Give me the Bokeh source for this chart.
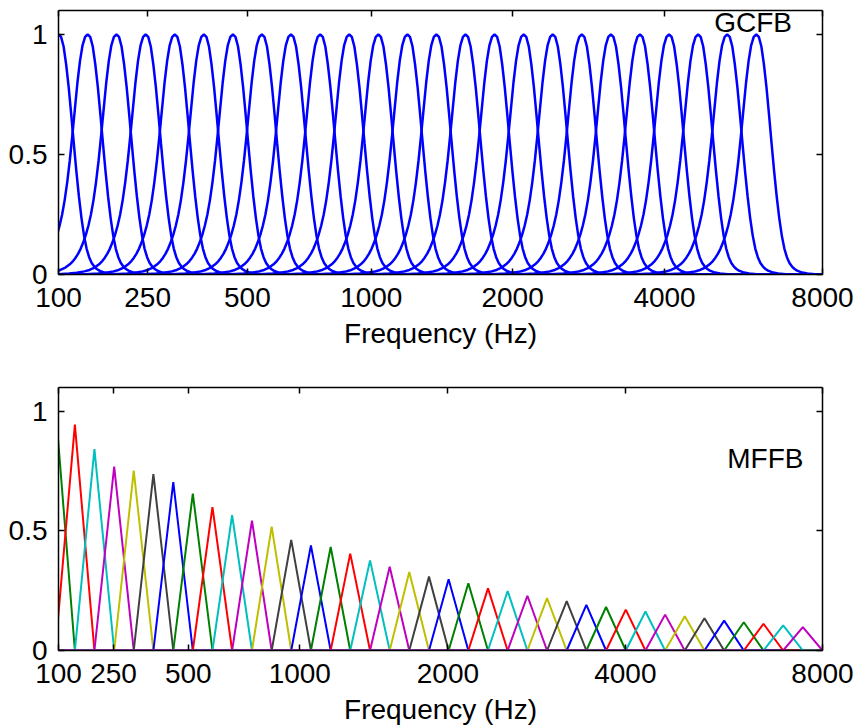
import numpy as np
from bokeh.plotting import figure
from bokeh.models import Range1d, FixedTicker, CustomJSTickFormatter, LinearAxis, Label
from bokeh.layouts import column
from bokeh.embed import file_html
from bokeh.resources import INLINE

# ---------------- data ----------------
tick_freqs = [100, 250, 500, 1000, 2000, 4000, 8000]
y_ticks = [0, 0.5, 1]

# GCFB: centre frequencies (Hz) of the gammachirp channels
gc_centers_hz = [100, 143, 191, 246, 308, 378, 457, 546, 647, 762, 891, 1037, 1202,
                 1388, 1599, 1837, 2107, 2411, 2755, 3144, 3584, 4081, 4643, 5278, 5996]
# shared response profile: offset (ERB-rate) vs gain
gc_offsets_erb = [-4.0, -3.5, -3.0, -2.7, -2.4, -2.2, -2.0, -1.8, -1.7, -1.6,
                  -1.5, -1.4, -1.3, -1.2, -1.1, -1.0, -0.9, -0.8, -0.7, -0.6,
                  -0.5, -0.4, -0.3, -0.2, -0.1, 0.0,
                  0.1, 0.2, 0.3, 0.4, 0.5, 0.6, 0.7, 0.8, 0.9, 1.0,
                  1.1, 1.2, 1.3, 1.4, 1.5, 1.6, 1.8, 2.0, 2.3, 2.6]
gc_gain = [0.0, 0.001, 0.004, 0.007, 0.013, 0.019, 0.029, 0.045, 0.056, 0.07,
           0.087, 0.108, 0.134, 0.165, 0.203, 0.25, 0.31, 0.385, 0.475, 0.58,
           0.69, 0.80, 0.89, 0.955, 0.99, 1.0,
           0.99, 0.95, 0.875, 0.78, 0.665, 0.545, 0.43, 0.325, 0.235, 0.162,
           0.108, 0.072, 0.048, 0.033, 0.023, 0.016, 0.008, 0.004, 0.0015, 0.0]

# MFFB: triangle corner frequencies (Hz) and peak heights of the 40 filters
mel_edges_hz = [0, 44, 92, 142, 195, 252, 312, 376, 445, 517, 594, 676, 764, 857,
                955, 1060, 1172, 1290, 1417, 1551, 1693, 1845, 2006, 2178, 2360,
                2554, 2761, 2980, 3213, 3461, 3725, 4006, 4304, 4621, 4958, 5317,
                5699, 6104, 6535, 6994, 7482, 8000]
mel_peaks = [1.05, 1.03, 0.945, 0.842, 0.769, 0.752, 0.738, 0.704, 0.656, 0.600,
             0.566, 0.543, 0.518, 0.463, 0.439, 0.433, 0.405, 0.377, 0.350, 0.328,
             0.309, 0.298, 0.281, 0.260, 0.249, 0.229, 0.219, 0.207, 0.191, 0.182,
             0.171, 0.163, 0.150, 0.143, 0.135, 0.125, 0.118, 0.112, 0.105, 0.098]

color_cycle = ["#0000ff", "#008000", "#ff0000", "#00bfbf", "#bf00bf", "#bfbf00", "#404040"]

FONT = "Liberation Sans"
FS = "28px"


def erb_rate(f):
    return 21.4 * np.log10(1 + 0.00437 * np.asarray(f, dtype=float))


def mel(f):
    return 2595 * np.log10(1 + np.asarray(f, dtype=float) / 700.0)


def make_fig(height, btop, bbottom, xlo, xhi, xticks, fmt_code, lab_standoff, axlab_standoff):
    p = figure(width=858, height=height, output_backend="svg", toolbar_location=None,
               x_range=Range1d(xlo, xhi), y_range=Range1d(0, 1.1),
               min_border_left=58, min_border_right=36,
               min_border_top=btop, min_border_bottom=bbottom)
    p.grid.visible = False
    p.outline_line_color = None
    p.background_fill_color = "white"
    p.border_fill_color = "white"

    xt = FixedTicker(ticks=list(xticks))
    yt = FixedTicker(ticks=y_ticks)
    xf = CustomJSTickFormatter(code=fmt_code)
    yf = CustomJSTickFormatter(code="return String(tick);")

    xa = p.xaxis[0]
    xa.ticker = xt
    xa.formatter = xf
    xa.axis_label = "Frequency (Hz)"
    xa.major_label_standoff = lab_standoff
    xa.axis_label_standoff = axlab_standoff
    ya = p.yaxis[0]
    ya.ticker = yt
    ya.formatter = yf
    ya.major_label_standoff = 11

    top = LinearAxis(ticker=xt, major_label_text_font_size="1px",
                     major_label_text_color=None, major_label_standoff=0)
    right = LinearAxis(ticker=yt, major_label_text_font_size="1px",
                       major_label_text_color=None, major_label_standoff=0)
    p.add_layout(top, "above")
    p.add_layout(right, "right")

    for ax in [xa, ya, top, right]:
        ax.major_tick_in = 6
        ax.major_tick_out = 0
        ax.minor_tick_line_color = None
        ax.axis_line_color = "black"
        ax.axis_line_width = 1.5
        ax.major_tick_line_color = "black"
        ax.major_tick_line_width = 1.5
    for ax in [xa, ya]:
        ax.major_label_text_font = FONT
        ax.major_label_text_font_size = FS
        ax.major_label_text_color = "black"
        ax.axis_label_text_font = FONT
        ax.axis_label_text_font_size = FS
        ax.axis_label_text_font_style = "normal"
        ax.axis_label_text_color = "black"
    return p


# ---------------- top: GCFB on ERB-rate axis ----------------
erb_fmt = "return String(Math.round((Math.pow(10, tick/21.4) - 1)/0.00437));"
e_lo, e_hi = float(erb_rate(100)), float(erb_rate(8000))
p1 = make_fig(374, 10, 100, e_lo, e_hi, erb_rate(tick_freqs), erb_fmt, 13, 8)

offs = np.array(gc_offsets_erb)
gains = np.array(gc_gain)
for c in gc_centers_hz:
    xs = float(erb_rate(c)) + offs
    xs = np.concatenate([[min(0.0, xs[0] - 0.1)], xs, [max(e_hi + 1, xs[-1] + 0.1)]])
    ys = np.concatenate([[0.0], gains, [0.0]])
    p1.line(xs, ys, line_color="#0000ff", line_width=2.5)

p1.add_layout(Label(x=32.1, y=1.05, text="GCFB", text_align="right",
                    text_baseline="alphabetic", text_font=FONT, text_font_size=FS,
                    text_color="black"))

# ---------------- bottom: MFFB on mel axis ----------------
mel_fmt = "return String(Math.round(700*(Math.pow(10, tick/2595) - 1)));"
m_lo, m_hi = float(mel(100)), float(mel(8000))
p2 = make_fig(353, 13, 75, m_lo, m_hi, mel(tick_freqs), mel_fmt, 13, 8)

edges_m = mel(mel_edges_hz)
for k, h in enumerate(mel_peaks):
    xs = [float(edges_m[0]), float(edges_m[k]), float(edges_m[k + 1]),
          float(edges_m[k + 2]), float(edges_m[-1])]
    ys = [0.0, 0.0, h, 0.0, 0.0]
    p2.line(xs, ys, line_color=color_cycle[k % len(color_cycle)], line_width=2)

p2.add_layout(Label(x=2773, y=0.804, text="MFFB", text_align="right",
                    text_baseline="alphabetic", text_font=FONT, text_font_size=FS,
                    text_color="black"))

layout = column(p1, p2, spacing=0)
open("out.html", "w").write(file_html(layout, INLINE))
